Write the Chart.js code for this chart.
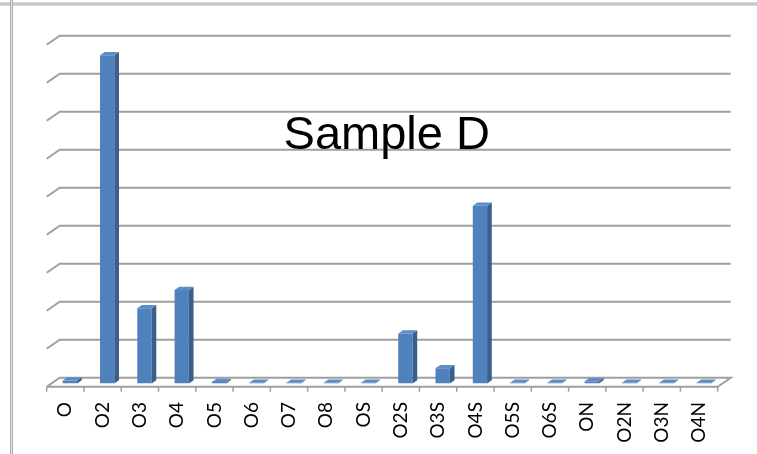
<!DOCTYPE html>
<html>
<head>
<meta charset="utf-8">
<script src="https://cdn.jsdelivr.net/npm/chart.js@4"></script>
<style>
  html, body { margin: 0; padding: 0; background: #ffffff; }
  #wrap { width: 757px; height: 454px; }
</style>
</head>
<body>
<div id="wrap"><canvas id="chart" width="757" height="454"></canvas></div>
<script>
// Category labels along the floor
const categories = ['O', 'O2', 'O3', 'O4', 'O5', 'O6', 'O7', 'O8', 'OS', 'O2S', 'O3S', 'O4S', 'O5S', 'O6S', 'ON', 'O2N', 'O3N', 'O4N'];
// Sample D counts per category
const sampleD = [4, 432, 99, 123, 2, 1, 1, 1, 1, 66, 20, 234, 1, 1, 3, 1, 1, 1];
// Value levels of the back-wall gridlines
const gridLevels = [0, 50, 100, 150, 200, 250, 300, 350, 400, 450];

const chartTitle = 'Sample D';

// 3D look: full floor depth and where the bar faces sit inside it
const DEPTH = { x: 13, y: -9 };
const FRONT_AT = 0.35;   // fraction of depth where the bar fronts stand
const BAR_DEPTH = 0.36;  // fraction of depth a bar occupies

const LINE = '#9f9f9f';

function shift(pt, frac) {
  return { x: pt.x + (frac - FRONT_AT) * DEPTH.x, y: pt.y + (frac - FRONT_AT) * DEPTH.y };
}

const framePlugin = {
  id: 'frame',
  beforeDraw(chart) {
    const ctx = chart.ctx;
    ctx.save();
    // sheet borders
    ctx.fillStyle = '#adadad';
    ctx.fillRect(0, 2.5, chart.width, 3);
    ctx.fillStyle = '#e2e2e2';
    ctx.fillRect(0, 3.5, chart.width, 1);
    ctx.fillStyle = '#adadad';
    ctx.fillRect(10, 0, 3, chart.height);
    ctx.fillStyle = '#e2e2e2';
    ctx.fillRect(11, 0, 1, chart.height);
    ctx.restore();
  },
  beforeDatasetsDraw(chart) {
    const ctx = chart.ctx;
    const xs = chart.scales.x;
    const ys = chart.scales.y;
    const area = chart.chartArea;
    ctx.save();
    ctx.strokeStyle = LINE;
    ctx.lineWidth = 2;
    ctx.lineCap = 'butt';
    gridLevels.forEach(v => {
      const py = ys.getPixelForValue(v);
      const fl = shift({ x: area.left, y: py }, 0);
      const bl = shift({ x: area.left, y: py }, 1);
      const br = shift({ x: area.right, y: py }, 1);
      ctx.beginPath();
      ctx.moveTo(fl.x, fl.y);
      ctx.lineTo(bl.x, bl.y);
      ctx.lineTo(br.x, br.y);
      if (v === gridLevels[0]) {
        const fr = shift({ x: area.right, y: py }, 0);
        ctx.lineTo(fr.x, fr.y);
        ctx.lineTo(fl.x, fl.y);
      }
      ctx.stroke();
    });
    // category tick marks on the front floor edge
    const base = ys.getPixelForValue(gridLevels[0]);
    const step = (area.right - area.left) / categories.length;
    ctx.lineWidth = 1.5;
    for (let i = 0; i <= categories.length; i++) {
      const p = shift({ x: xs.getPixelForValue(0) - step / 2 + i * step, y: base }, 0);
      ctx.beginPath();
      ctx.moveTo(p.x, p.y);
      ctx.lineTo(p.x, p.y + 5);
      ctx.stroke();
    }
    ctx.restore();
  },
  afterDatasetsDraw(chart) {
    const ctx = chart.ctx;
    const meta = chart.getDatasetMeta(0);
    const dx = BAR_DEPTH * DEPTH.x;
    const dy = BAR_DEPTH * DEPTH.y;
    ctx.save();
    meta.data.forEach(bar => {
      const { x, y, base, width } = bar.getProps(['x', 'y', 'base', 'width'], true);
      const l = x - width / 2;
      const r = x + width / 2;
      // side face
      ctx.fillStyle = '#3b5f8d';
      ctx.beginPath();
      ctx.moveTo(r, y);
      ctx.lineTo(r + dx, y + dy);
      ctx.lineTo(r + dx, base + dy);
      ctx.lineTo(r, base);
      ctx.closePath();
      ctx.fill();
      // top face
      ctx.fillStyle = '#5b8dcb';
      ctx.beginPath();
      ctx.moveTo(l, y);
      ctx.lineTo(l + dx, y + dy);
      ctx.lineTo(r + dx, y + dy);
      ctx.lineTo(r, y);
      ctx.closePath();
      ctx.fill();
    });
    ctx.restore();
  },
  afterDraw(chart) {
    const ctx = chart.ctx;
    const area = chart.chartArea;
    ctx.save();
    ctx.fillStyle = '#000000';
    ctx.font = '47px "Liberation Sans", Arial, sans-serif';
    ctx.textAlign = 'center';
    ctx.textBaseline = 'alphabetic';
    ctx.fillText(chartTitle, (area.left + area.right) / 2, area.top + (area.bottom - area.top) * 0.315);
    ctx.restore();
  }
};

new Chart(document.getElementById('chart'), {
  type: 'bar',
  data: {
    labels: categories,
    datasets: [{
      label: chartTitle,
      data: sampleD,
      backgroundColor: '#4f81bd',
      borderWidth: 0,
      barPercentage: 0.384,
      categoryPercentage: 1
    }]
  },
  options: {
    responsive: false,
    animation: false,
    devicePixelRatio: 1,
    layout: { padding: { left: 51.25, right: 34.75, top: 41.55, bottom: 0 } },
    plugins: {
      legend: { display: false },
      tooltip: { enabled: false },
      title: { display: false }
    },
    scales: {
      x: {
        grid: { display: false, drawTicks: false },
        border: { display: false },
        afterFit(scale) { scale.height = 70.45; },
        ticks: {
          autoSkip: false,
          minRotation: 90,
          maxRotation: 90,
          padding: 18.5,
          labelOffset: -FRONT_AT * DEPTH.x,
          color: '#000000',
          font: { family: 'Lato, "Liberation Sans", sans-serif', size: 19 }
        }
      },
      y: {
        display: false,
        min: 0,
        max: 450,
        ticks: { stepSize: 50 }
      }
    }
  },
  plugins: [framePlugin]
});
</script>
</body>
</html>
